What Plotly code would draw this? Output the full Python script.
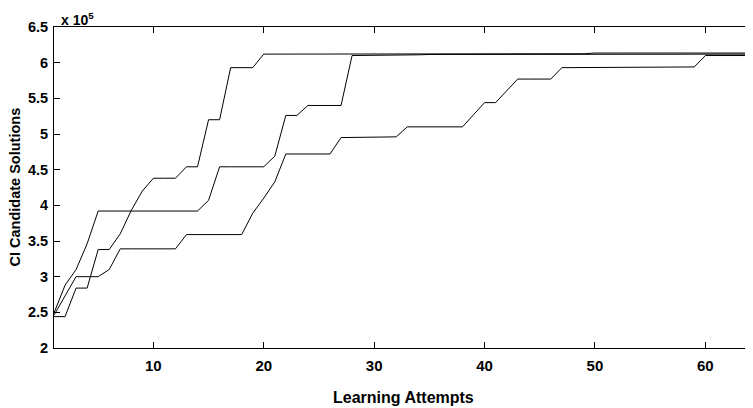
import plotly.graph_objects as go

attempts = list(range(1, 66))

# values in units of 10^5
series_a = [2.44, 2.44, 2.84, 2.84, 3.38, 3.38, 3.60, 3.93, 4.20, 4.38,
            4.38, 4.38, 4.54, 4.54, 5.20, 5.20, 5.93, 5.93, 5.93, 6.12,
            6.12, 6.12, 6.12, 6.12, 6.12, 6.12, 6.12, 6.12, 6.12, 6.12,
            6.12, 6.12, 6.12, 6.12, 6.12, 6.12, 6.12, 6.12, 6.12, 6.12,
            6.12, 6.12, 6.12, 6.12, 6.12, 6.12, 6.12, 6.12, 6.125, 6.135,
            6.135, 6.135, 6.135, 6.135, 6.135, 6.135, 6.135, 6.135, 6.135, 6.135,
            6.135, 6.135, 6.135, 6.135, 6.135]

series_b = [2.49, 2.88, 3.10, 3.46, 3.92, 3.92, 3.92, 3.92, 3.92, 3.92,
            3.92, 3.92, 3.92, 3.92, 4.07, 4.54, 4.54, 4.54, 4.54, 4.54,
            4.69, 5.26, 5.26, 5.40, 5.40, 5.40, 5.40, 6.10, 6.10, 6.10,
            6.105, 6.105, 6.11, 6.11, 6.115, 6.115, 6.12, 6.12, 6.12, 6.12,
            6.12, 6.12, 6.12, 6.12, 6.12, 6.12, 6.12, 6.12, 6.12, 6.12,
            6.12, 6.12, 6.12, 6.12, 6.12, 6.12, 6.12, 6.12, 6.12, 6.12,
            6.12, 6.12, 6.12, 6.12, 6.12]

series_c = [2.46, 2.73, 3.00, 3.00, 3.00, 3.10, 3.39, 3.39, 3.39, 3.39,
            3.39, 3.39, 3.59, 3.59, 3.59, 3.59, 3.59, 3.59, 3.89, 4.10,
            4.33, 4.72, 4.72, 4.72, 4.72, 4.72, 4.95, 4.95, 4.95, 4.95,
            4.955, 4.96, 5.10, 5.10, 5.10, 5.10, 5.10, 5.10, 5.27, 5.44,
            5.44, 5.605, 5.77, 5.77, 5.77, 5.77, 5.93, 5.93, 5.93, 5.93,
            5.935, 5.935, 5.935, 5.935, 5.935, 5.935, 5.94, 5.94, 5.94, 6.10,
            6.10, 6.10, 6.10, 6.10, 6.10]

x_ticks = [10, 20, 30, 40, 50, 60]
y_ticks = [2, 2.5, 3, 3.5, 4, 4.5, 5, 5.5, 6, 6.5]

FONT = "Liberation Sans, Arial, sans-serif"

fig = go.Figure()
for ys in (series_a, series_b, series_c):
    fig.add_trace(go.Scatter(x=attempts, y=ys, mode="lines",
                             line=dict(color="black", width=1),
                             showlegend=False, hoverinfo="skip"))

# the page body adds an 8px offset; margins compensate for it
fig.update_layout(
    width=753, height=408,
    margin=dict(l=46, r=0, t=19, b=68),
    paper_bgcolor="white", plot_bgcolor="white",
    font=dict(family=FONT, color="#000000"),
    xaxis=dict(range=[1, 65.04], tickvals=x_ticks, ticks="inside", ticklen=6,
               tickcolor="black", showline=True, linecolor="black", linewidth=1,
               mirror="ticks", showgrid=False, zeroline=False, automargin=False,
               ticklabelstandoff=4,
               tickfont=dict(size=15, family=FONT, weight="bold")),
    yaxis=dict(range=[2, 6.5], tickvals=y_ticks, ticks="inside", ticklen=6,
               tickcolor="black", showline=True, linecolor="black", linewidth=1,
               showgrid=False, zeroline=False, automargin=False,
               ticklabelstandoff=2,
               tickfont=dict(size=14.5, family=FONT, weight="bold")),
    annotations=[
        dict(text="<b>x 10<sup>5</sup></b>", xref="paper", yref="paper",
             x=0.008, y=1.0, xanchor="left", yanchor="bottom",
             showarrow=False, font=dict(size=14, family=FONT), yshift=-2,
             borderpad=0),
        dict(text="<b>Learning Attempts</b>", xref="paper", yref="paper",
             x=0.5, y=0, xanchor="center", yanchor="middle",
             showarrow=False, font=dict(size=16, family=FONT), yshift=-49,
             xshift=-4),
        dict(text="<b>CI Candidate Solutions</b>", xref="paper", yref="paper",
             x=0, y=0.5, xanchor="center", yanchor="middle", textangle=-90,
             showarrow=False, font=dict(size=14.5, family=FONT), xshift=-40),
    ],
)

fig.write_html("out.html")
